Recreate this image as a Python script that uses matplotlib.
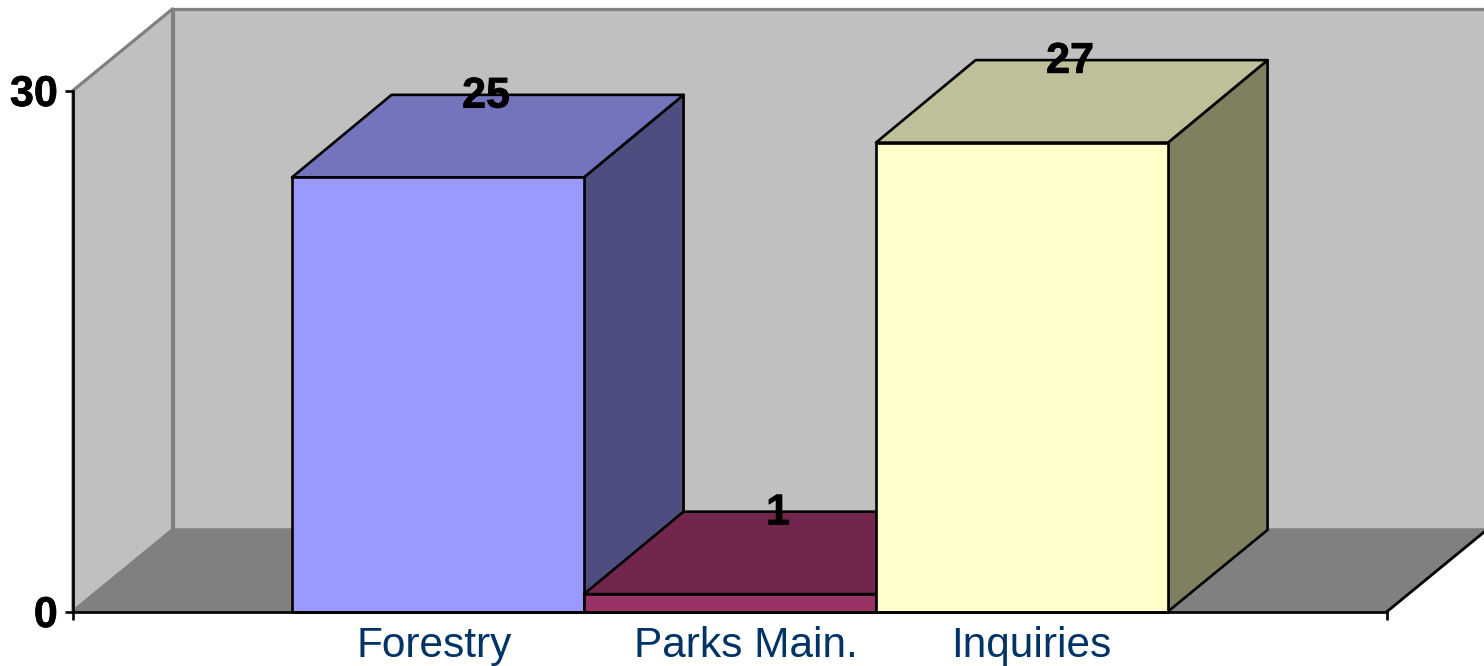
from matplotlib import pyplot as plt
from matplotlib import patheffects
from matplotlib.patches import Polygon

categories = ["Forestry", "Parks Main.", "Inquiries"]
values = [25, 1, 27]
y_ticks = [0, 30]

front_colors = ["#9999FF", "#993366", "#FFFFCC"]
top_colors = ["#7474BD", "#73264D", "#BFBF99"]
side_colors = ["#4D4D7F", "#4D1A33", "#808060"]

# depth of the fake 3d box, in data units
DX = 0.341
DY = 4.7
DY_TOP = 4.75
X_MIN = -1.25
X_MAX = 3.25
Y_MAX = 30
BAR_LW = 1.9
WALL_LW = 2.3
LABEL_SHIFT = [-0.012, 0.053, 0.03]


def add_poly(ax, points, face, edge, lw=BAR_LW, zorder=1):
    ax.add_patch(Polygon(points, closed=True, facecolor=face, edgecolor=edge,
                         linewidth=lw, zorder=zorder, clip_on=False,
                         joinstyle="round"))


def draw_room(ax):
    # side wall, back wall, floor
    add_poly(ax, [(X_MIN, 0), (X_MIN, Y_MAX), (X_MIN + DX, Y_MAX + DY), (X_MIN + DX, DY)],
             "#C0C0C0", "#808080", WALL_LW)
    add_poly(ax, [(X_MIN + DX, DY), (X_MIN + DX, Y_MAX + DY), (X_MAX + DX, Y_MAX + DY), (X_MAX + DX, DY)],
             "#C0C0C0", "#808080", WALL_LW)
    add_poly(ax, [(X_MIN, 0), (X_MIN + DX, DY), (X_MAX + DX, DY), (X_MAX, 0)],
             "#808080", "#808080", WALL_LW)
    ax.plot([X_MAX, X_MAX + DX], [0, DY], color="black", lw=BAR_LW, zorder=1.5, clip_on=False)


def draw_bar(ax, pos, value, front, top, side):
    left = pos - 0.5
    right = pos + 0.5
    add_poly(ax, [(right, 0), (right, value), (right + DX, value + DY_TOP), (right + DX, DY)],
             side, "black", zorder=2)
    add_poly(ax, [(left, value), (left + DX, value + DY_TOP), (right + DX, value + DY_TOP), (right, value)],
             top, "black", zorder=2)
    add_poly(ax, [(left, 0), (left, value), (right, value), (right, 0)],
             front, "black", zorder=2)


def main():
    plt.rcParams["font.family"] = ["Liberation Sans", "DejaVu Sans"]
    fig = plt.figure(figsize=(14.84, 6.66), dpi=100)
    ax = fig.add_axes([73 / 1484, 54.5 / 666, 1314 / 1484, 521 / 666])
    ax.set_xlim(X_MIN, X_MAX)
    ax.set_ylim(0, Y_MAX)
    ax.patch.set_visible(False)

    draw_room(ax)
    for idx, value in enumerate(values):
        draw_bar(ax, idx, value, front_colors[idx], top_colors[idx], side_colors[idx])

    stroke = [patheffects.withStroke(linewidth=0.5, foreground="black")]
    for idx, value in enumerate(values):
        ax.text(idx + DX / 2 - 0.006, value + DY_TOP - 0.1, str(value), ha="center", va="center",
                fontsize=31, fontweight="bold", color="black", zorder=5,
                path_effects=stroke, clip_on=False)

    for side in ["top", "right"]:
        ax.spines[side].set_visible(False)
    for side in ["left", "bottom"]:
        ax.spines[side].set_linewidth(BAR_LW)
        ax.spines[side].set_zorder(4)

    ax.set_yticks(y_ticks)
    ax.set_yticklabels([str(tick) for tick in y_ticks], fontsize=31, fontweight="bold")
    for label in ax.get_yticklabels():
        label.set_path_effects(stroke)
    ax.tick_params(axis="y", length=6, width=BAR_LW, pad=5)

    ax.set_xticks([X_MIN, X_MAX])
    ax.set_xticklabels(["", ""])
    ax.tick_params(axis="x", which="major", length=6, width=BAR_LW)
    ax.set_xticks([idx + LABEL_SHIFT[idx] for idx in range(len(categories))], labels=categories, minor=True)
    ax.tick_params(axis="x", which="minor", length=0, pad=10.5, labelsize=30.5, labelcolor="#003366")

    fig.savefig("out.png", dpi=100)


if __name__ == '__main__':
    main()
